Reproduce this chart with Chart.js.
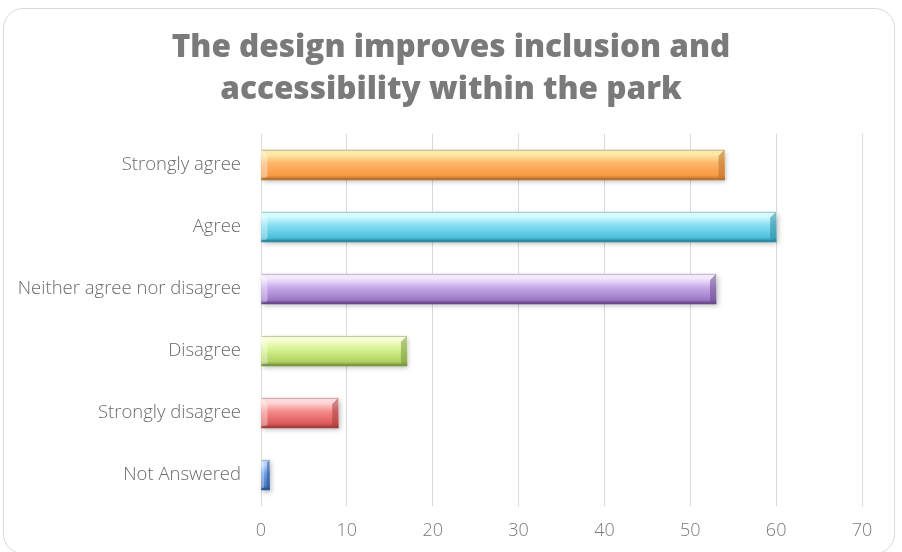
<!DOCTYPE html>
<html>
<head>
<meta charset="utf-8">
<script src="https://cdn.jsdelivr.net/npm/chart.js@4"></script>
<style>
  html,body{margin:0;padding:0;background:#fff;width:902px;height:552px;overflow:hidden;}
  #frame{position:absolute;left:3px;top:8px;width:892px;height:546px;border:1px solid #d9d9d9;border-radius:20px;box-sizing:border-box;}
  #wrap{position:absolute;left:0;top:0;width:902px;height:552px;}
</style>
</head>
<body>
<div id="frame"></div>
<div id="wrap"><canvas id="c" width="902" height="552"></canvas></div>
<script>
const categories = ["Strongly agree","Agree","Neither agree nor disagree","Disagree","Strongly disagree","Not Answered"];
const values = [54, 60, 53, 17, 9, 1];
const xTicks = [0,10,20,30,40,50,60,70];
const titleLines = ["The design improves inclusion and","accessibility within the park"];

// palette: [top highlight, upper, lower, bottom edge]
const palette = [
  ["#fdeaa8","#fcb466","#f79a46","#b8702e"],
  ["#d4fcff","#86def2","#4fc0dc","#2e879e"],
  ["#f4e8ff","#c6a9e8","#9f7bca","#684a8a"],
  ["#f7ffd2","#d6f28e","#b2d264","#78983e"],
  ["#ffd9d9","#f48a8a","#de5a5a","#a43e3e"],
  ["#b8d6fa","#6e9ee2","#4a78c4","#2e5290"]
];
const BAR_H = 30;

function barGradient(c){
  const chart = c.chart;
  const p = palette[c.dataIndex];
  if(!chart.chartArea || !chart.scales.y) return p[1];
  const y = chart.scales.y.getPixelForValue(c.dataIndex);
  const g = chart.ctx.createLinearGradient(0, y - BAR_H/2, 0, y + BAR_H/2);
  g.addColorStop(0, p[0]);
  g.addColorStop(0.15, p[0]);
  g.addColorStop(0.45, p[1]);
  g.addColorStop(0.85, p[2]);
  g.addColorStop(1, p[3]);
  return g;
}

const bevelPlugin = {
  id:'bevel',
  beforeDatasetsDraw(chart){
    const ctx = chart.ctx;
    const meta = chart.getDatasetMeta(0);
    ctx.save();
    meta.data.forEach(el=>{
      const l = Math.min(el.base, el.x), r = Math.max(el.base, el.x);
      const t = el.y - BAR_H/2;
      ctx.shadowColor = 'rgba(0,0,0,0.28)';
      ctx.shadowBlur = 5;
      ctx.shadowOffsetX = 1.5;
      ctx.shadowOffsetY = 2.5;
      ctx.fillStyle = '#ffffff';
      ctx.fillRect(l, t, r - l, BAR_H);
    });
    ctx.restore();
  },
  afterDatasetsDraw(chart){
    const ctx = chart.ctx;
    const meta = chart.getDatasetMeta(0);
    ctx.save();
    meta.data.forEach((el,i)=>{
      const p = palette[i];
      const l = Math.min(el.base, el.x), r = Math.max(el.base, el.x);
      const t = el.y - BAR_H/2, b = el.y + BAR_H/2;
      const w = r - l;
      const bv = Math.min(6, w/3);
      ctx.globalAlpha = 0.55;
      ctx.fillStyle = p[3];
      ctx.beginPath();
      ctx.moveTo(r, t); ctx.lineTo(r, b); ctx.lineTo(r - bv, b - 3); ctx.lineTo(r - bv, t + bv); ctx.closePath();
      ctx.fill();
      ctx.globalAlpha = 0.35;
      ctx.fillStyle = '#ffffff';
      ctx.beginPath();
      ctx.moveTo(l, t); ctx.lineTo(l + bv, t + bv); ctx.lineTo(l + bv, b - 3); ctx.lineTo(l, b); ctx.closePath();
      ctx.fill();
      ctx.globalAlpha = 0.8;
      ctx.fillStyle = p[3];
      ctx.fillRect(l, b - 2, w, 2);
      ctx.globalAlpha = 0.6;
      ctx.fillStyle = '#9a9a9a';
      ctx.fillRect(l, t, w, 1);
      ctx.globalAlpha = 1;
    });
    ctx.restore();
  }
};

new Chart(document.getElementById('c'), {
  type:'bar',
  data:{
    labels: categories,
    datasets:[{
      data: values,
      backgroundColor: barGradient,
      borderWidth: 0,
      barThickness: BAR_H
    }]
  },
  plugins:[bevelPlugin],
  options:{
    indexAxis:'y',
    responsive:false,
    animation:false,
    devicePixelRatio:1,
    layout:{padding:0},
    plugins:{
      legend:{display:false},
      tooltip:{enabled:false},
      title:{
        display:true,
        text: titleLines,
        color:'#7a7a7a',
        font:{family:'Open Sans', size:31.5, weight:'800', lineHeight:1.33},
        padding:{top:27,bottom:23}
      }
    },
    scales:{
      x:{
        min:0, max:70,
        afterBuildTicks(s){ s.ticks = xTicks.map(v=>({value:v})); },
        grid:{color:'#d9d9d9', lineWidth:1, drawTicks:false},
        border:{display:false},
        ticks:{color:'#7a7a7a', padding:14, font:{family:'Open Sans', size:18, weight:'300'}},
        afterFit(s){ s.height = 46; }
      },
      y:{
        grid:{display:false, drawTicks:false},
        border:{display:false},
        ticks:{color:'#6a6a6a', padding:20, font:{family:'Open Sans', size:18.5, weight:'300'}},
        afterFit(s){ s.width = 261; }
      },
      yr:{
        type:'category',
        position:'right',
        labels: categories,
        grid:{display:false, drawTicks:false},
        border:{display:false},
        ticks:{display:false},
        afterFit(s){ s.width = 40; }
      }
    }
  }
});
</script>
</body>
</html>
